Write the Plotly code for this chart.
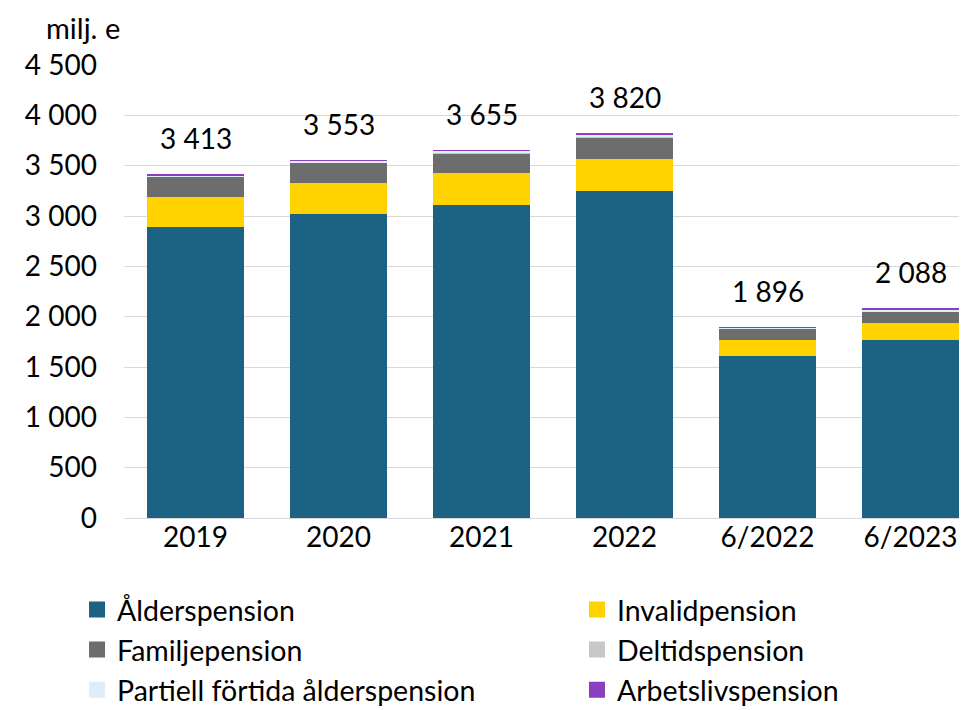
import plotly.graph_objects as go

categories = ["2019", "2020", "2021", "2022", "6/2022", "6/2023"]
alder = [2888, 3017, 3109, 3251, 1612, 1768]
invalid = [304, 311, 315, 312, 156, 166]
familj = [199, 202, 199, 219, 112, 119]
deltid = [4, 3, 3, 3, 2, 2]
partiell = [12, 14, 20, 25, 10, 14]
arbetsliv = [6, 6, 9, 10, 4, 19]
totals = [3413, 3553, 3655, 3820, 1896, 2088]
total_labels = ["3 413", "3 553", "3 655", "3 820", "1 896", "2 088"]
y_ticks = [0, 500, 1000, 1500, 2000, 2500, 3000, 3500, 4000, 4500]
y_tick_labels = ["0", "500", "1 000", "1 500", "2 000", "2 500", "3 000", "3 500", "4 000", "4 500"]

series = [
    ("Ålderspension", alder, "#1b6283", "legend"),
    ("Invalidpension", invalid, "#ffd200", "legend2"),
    ("Familjepension", familj, "#6d6d6d", "legend"),
    ("Deltidspension", deltid, "#c8c8c8", "legend2"),
    ("Partiell förtida ålderspension", partiell, "#ddeef8", "legend"),
    ("Arbetslivspension", arbetsliv, "#8a3fbf", "legend2"),
]

FONT = "Lato"
FS = 28
fig = go.Figure()
for i, (name, vals, col, lg) in enumerate(series):
    fig.add_trace(go.Bar(x=categories, y=vals, name=name, showlegend=False,
                         marker=dict(color=col, line=dict(width=0))))
for i, (name, vals, col, lg) in enumerate(series):
    fig.add_trace(go.Scatter(x=[None], y=[None], mode="markers", name=name, legend=lg,
                             legendgroup=name,
                             marker=dict(symbol="square", size=20, color=col)))

for i, (t, lab) in enumerate(zip(totals, total_labels)):
    fig.add_annotation(x=i, y=t, text=lab, showarrow=False, yanchor="bottom", yshift=17,
                       font=dict(size=FS, color="#000000", family=FONT))

fig.add_annotation(x=0.0, y=1.0, xref="paper", yref="paper", xanchor="right", yanchor="bottom",
                   xshift=-2, yshift=18, text="milj. e", showarrow=False,
                   font=dict(size=29, color="#000000", family=FONT))

leg_common = dict(orientation="v", yanchor="top", xanchor="left", traceorder="grouped",
                  tracegroupgap=0, font=dict(size=28.5, family=FONT, color="#000000"),
                  bgcolor="rgba(0,0,0,0)", itemclick=False, yref="container", xref="container")

fig.update_layout(
    width=967, height=710,
    barmode="stack", bargap=0.322,
    paper_bgcolor="white", plot_bgcolor="white",
    margin=dict(l=116, r=16, t=57, b=200, autoexpand=False),
    font=dict(family=FONT, size=FS, color="#000000"),
    showlegend=True,
    legend=dict(x=0.0714, y=0.188, **leg_common),
    legend2=dict(x=0.5884, y=0.188, **leg_common),
    xaxis=dict(type="category", range=[-0.5, 5.339], showgrid=False, showline=False, ticks="",
               automargin=False, tickfont=dict(size=FS, family=FONT)),
    yaxis=dict(range=[0, 4500], tickvals=y_ticks, ticktext=y_tick_labels,
               showgrid=True, gridcolor="#d9d9d9", gridwidth=1, zeroline=True,
               zerolinecolor="#d9d9d9", zerolinewidth=1, showline=False, ticks="",
               automargin=False, ticklabelstandoff=26, tickfont=dict(size=FS, family=FONT)),
)

fig.write_html("out.html")
